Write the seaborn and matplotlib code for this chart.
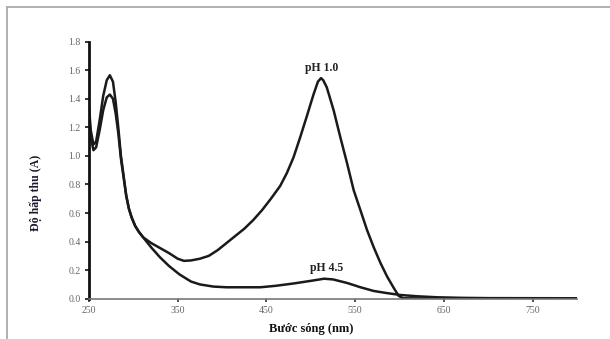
import numpy as np
import pandas as pd
import matplotlib
matplotlib.use("Agg")
import matplotlib.pyplot as plt
import seaborn as sns
from matplotlib.lines import Line2D

# ---- data ----
wl_ph1 = [250, 252, 255, 258, 262, 266, 270, 273.5, 277, 280, 283, 286, 289, 292, 295, 298, 302, 306, 311,
          320, 330, 340, 350, 357, 365, 375, 385, 395, 405, 415, 425, 435, 445, 455, 465.5, 473, 480.5,
          488, 495.6, 503, 508, 511.5, 514, 518, 525.7, 533.3, 540.8, 548.3, 555.9, 563.4, 570.9, 578.5,
          586, 593.5, 599, 604, 650, 700, 750, 800]
abs_ph1 = [1.34, 1.18, 1.08, 1.10, 1.25, 1.42, 1.53, 1.565, 1.52, 1.38, 1.20, 1.00, 0.86, 0.72, 0.63, 0.57,
           0.51, 0.47, 0.43, 0.39, 0.355, 0.32, 0.28, 0.265, 0.268, 0.28, 0.30, 0.34, 0.39, 0.44, 0.49,
           0.55, 0.62, 0.70, 0.79, 0.88, 0.99, 1.13, 1.28, 1.43, 1.52, 1.545, 1.53, 1.48, 1.32, 1.13, 0.95,
           0.76, 0.62, 0.48, 0.36, 0.25, 0.155, 0.075, 0.02, 0.003, 0.0, 0.0, 0.0, 0.0]

wl_ph45 = [250, 252, 255, 258, 262, 266, 270, 273.5, 277, 280, 283, 286, 289, 292, 295, 298, 302, 306, 311,
           320, 330, 340, 352, 365, 375, 390, 405, 420, 443, 460, 481, 500, 515, 525, 541, 556, 571, 585,
           601, 620, 642, 670, 700, 800]
abs_ph45 = [1.28, 1.13, 1.04, 1.06, 1.18, 1.32, 1.41, 1.43, 1.40, 1.30, 1.16, 0.98, 0.85, 0.72, 0.63, 0.57,
            0.51, 0.47, 0.43, 0.36, 0.29, 0.23, 0.17, 0.12, 0.10, 0.085, 0.08, 0.08, 0.08, 0.09, 0.107,
            0.125, 0.14, 0.135, 0.11, 0.08, 0.054, 0.04, 0.026, 0.017, 0.01, 0.006, 0.004, 0.003]

series_labels = ["pH 1.0", "pH 4.5"]
x_ticks = [250, 350, 450, 550, 650, 750]
y_ticks = [0.0, 0.2, 0.4, 0.6, 0.8, 1.0, 1.2, 1.4, 1.6, 1.8]

df = pd.concat([
    pd.DataFrame({"wl": wl_ph1, "A": abs_ph1, "s": series_labels[0]}),
    pd.DataFrame({"wl": wl_ph45, "A": abs_ph45, "s": series_labels[1]}),
])

sns.set_style("white")
plt.rcParams['font.family'] = ['Liberation Serif', 'DejaVu Serif']

fig = plt.figure(figsize=(6.10, 3.39), dpi=100)
ax = fig.add_axes([89 / 610, 1 - 298.7 / 339, (577 - 89) / 610, (298.7 - 41.7) / 339])

sns.lineplot(data=df, x="wl", y="A", hue="s", palette=["#1a1a1a", "#1a1a1a"],
             linewidth=1.8, legend=False, ax=ax, sort=False)
for ln in ax.get_lines():
    ln.set_solid_joinstyle('round')

ax.set_xlim(250, 800)
ax.set_ylim(0, 1.8)
ax.set_xticks(x_ticks)
ax.set_xticklabels([str(v) for v in x_ticks])
ax.set_yticks(y_ticks)
ax.set_yticklabels([f"{v:.1f}" for v in y_ticks])
ax.tick_params(axis='y', direction='out', length=3, width=1.2, color='#111111',
               labelsize=7, labelcolor='#666666', pad=3, left=True)
ax.tick_params(axis='x', direction='out', length=2, width=1.2, color='#333333',
               labelsize=7, labelcolor='#666666', pad=3, bottom=True)

for s in ['top', 'right']:
    ax.spines[s].set_visible(False)
ax.spines['left'].set_color('#111111')
ax.spines['left'].set_linewidth(2.0)
ax.spines['bottom'].set_color('#777777')
ax.spines['bottom'].set_linewidth(1.2)

ax.set_xlabel("Bước sóng (nm)", fontsize=9, fontweight='bold', color='#111111')
ax.xaxis.set_label_coords(0.455, -0.095)
ax.set_ylabel("Độ hấp thu (A)", fontsize=8.5, fontweight='bold', color='#1a1a2e')
ax.yaxis.set_label_coords(-0.096, 0.41)

ax.text(512, 1.615, series_labels[0], ha='center', va='center', fontsize=8.5,
        fontweight='bold', color='#222222')
ax.text(518, 0.213, series_labels[1], ha='center', va='center', fontsize=8.5,
        fontweight='bold', color='#222222')

# outer frame (top and left edges)
fig.add_artist(Line2D([7 / 610, 1], [1 - 7 / 339, 1 - 7 / 339], transform=fig.transFigure,
                      color='#aaaaaa', linewidth=1.3))
fig.add_artist(Line2D([7 / 610, 7 / 610], [0, 1 - 7 / 339], transform=fig.transFigure,
                      color='#aaaaaa', linewidth=1.3))

fig.savefig("out.png", dpi=100, facecolor='white')
